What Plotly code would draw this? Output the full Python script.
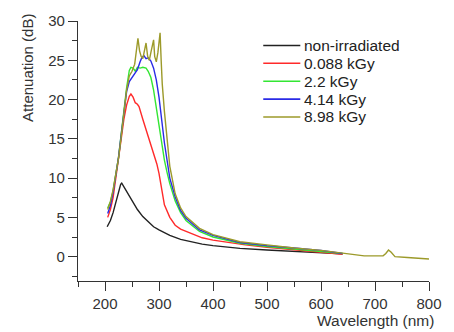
import plotly.graph_objects as go

# ---- data ----
wl_black = [204, 210, 215, 220, 225, 229, 231, 234, 240, 250, 260, 270, 280, 290, 300, 320, 340, 360, 380, 400, 450, 500, 550, 600, 640]
att_black = [3.8, 4.6, 5.6, 7.0, 8.4, 9.2, 9.35, 9.0, 8.2, 7.1, 6.0, 5.1, 4.4, 3.8, 3.4, 2.7, 2.2, 1.9, 1.6, 1.4, 1.05, 0.85, 0.7, 0.5, 0.35]

wl_red = [205, 210, 215, 220, 225, 230, 235, 240, 245, 248, 252, 256, 260, 263, 270, 280, 290, 296, 300, 305, 310, 320, 330, 340, 360, 380, 400, 430, 460, 500, 550, 600, 640]
att_red = [5.0, 6.0, 7.5, 9.8, 12.3, 15.0, 17.5, 19.3, 20.4, 20.7, 20.3, 19.6, 19.4, 19.1, 17.5, 15.3, 13.0, 11.8, 10.6, 8.5, 6.6, 5.0, 4.0, 3.5, 2.9, 2.4, 2.1, 1.8, 1.5, 1.2, 0.9, 0.6, 0.3]

wl_green = [205, 210, 215, 220, 225, 230, 235, 240, 245, 248, 252, 256, 260, 265, 270, 276, 280, 285, 290, 295, 300, 305, 310, 315, 320, 330, 340, 350, 375, 400, 450, 500, 550, 600, 640]
att_green = [6.2, 7.0, 8.4, 10.4, 12.6, 15.6, 18.8, 21.5, 23.7, 24.1, 24.0, 23.6, 24.1, 24.0, 24.1, 24.0, 23.6, 22.8, 21.2, 19.0, 16.5, 14.3, 12.3, 10.7, 9.3, 7.1, 5.6, 4.6, 3.2, 2.5, 1.7, 1.3, 1.0, 0.7, 0.4]

wl_blue = [205, 210, 215, 220, 225, 230, 235, 240, 245, 250, 255, 260, 265, 268, 272, 276, 280, 285, 290, 295, 300, 305, 310, 320, 330, 340, 350, 375, 400, 450, 500, 550, 600, 640]
att_blue = [5.5, 6.5, 8.2, 10.3, 12.6, 15.5, 18.5, 21.0, 22.3, 22.8, 23.2, 23.8, 24.8, 25.3, 25.6, 25.2, 25.3, 24.9, 24.0, 22.5, 20.3, 17.5, 14.5, 10.0, 7.6, 5.9, 4.9, 3.4, 2.7, 1.8, 1.4, 1.1, 0.8, 0.4]

wl_olive = [205, 210, 215, 220, 225, 230, 235, 240, 245, 250, 255, 258, 261, 264, 267, 270, 273, 276, 279, 282, 285, 288, 290, 292, 295, 298, 300, 302, 304, 306, 310, 315, 320, 330, 340, 350, 375, 400, 450, 500, 550, 600, 650, 680, 700, 715, 720, 725, 730, 737, 760, 780, 800]
att_olive = [6.0, 7.0, 8.5, 10.3, 12.5, 15.3, 18.5, 21.2, 23.0, 23.6, 24.5, 26.0, 27.8, 26.2, 25.5, 25.2, 26.3, 27.2, 25.5, 25.0, 26.0, 27.3, 27.6, 25.5, 24.8, 26.0, 27.8, 28.5, 25.0, 22.0, 18.5, 14.5, 11.5, 8.0, 6.2, 5.1, 3.6, 2.8, 1.9, 1.5, 1.1, 0.8, 0.4, 0.1, 0.1, 0.1, 0.4, 0.85, 0.55, 0.0, -0.1, -0.2, -0.3]

series_names = ["non-irradiated", "0.088 kGy", "2.2 kGy", "4.14 kGy", "8.98 kGy"]
series_x = [wl_black, wl_red, wl_green, wl_blue, wl_olive]
series_y = [att_black, att_red, att_green, att_blue, att_olive]
series_colors = ["#222222", "#ff2a2a", "#33e633", "#2a2ae6", "#9c9a2a"]

x_ticks = [200, 300, 400, 500, 600, 700, 800]
y_ticks = [0, 5, 10, 15, 20, 25, 30]

FONT = "Liberation Sans, Arial, sans-serif"
TXT = "#333333"
AX = "#333333"

fig = go.Figure()
for name, x, y, c in zip(series_names, series_x, series_y, series_colors):
    fig.add_trace(go.Scatter(x=x, y=y, mode="lines", name=name,
                             line=dict(color=c, width=1.4), showlegend=False))

axis_common = dict(
    showline=True, linecolor=AX, linewidth=1.3,
    ticks="outside", ticklen=9, tickwidth=1.3, tickcolor=AX,
    showgrid=False, zeroline=False,
    tickfont=dict(family=FONT, size=15, color=TXT),
)

fig.update_xaxes(range=[150, 800], tickvals=x_ticks,
                 minor=dict(dtick=50, tick0=0, ticks="outside", ticklen=5,
                            tickwidth=1.3, tickcolor=AX),
                 **axis_common)
fig.update_yaxes(range=[-3.1, 30], tickvals=y_ticks,
                 minor=dict(dtick=2.5, tick0=0, ticks="outside", ticklen=5,
                            tickwidth=1.3, tickcolor=AX),
                 **axis_common)

# axis titles (placed like the reference: y title near top, x title at right)
fig.add_annotation(text="Attenuation (dB)", xref="paper", yref="paper",
                   x=-0.142, y=0.82, textangle=-90, showarrow=False,
                   xanchor="center", yanchor="middle",
                   font=dict(family=FONT, size=15, color=TXT))
fig.add_annotation(text="Wavelength (nm)", xref="paper", yref="paper",
                   x=1.02, y=-0.15, showarrow=False,
                   xanchor="right", yanchor="middle",
                   font=dict(family=FONT, size=15.5, color=TXT))

# legend drawn as line swatches + labels, tight row spacing like the reference
PLOT_TOP, PLOT_BOTTOM, PLOT_LEFT, PLOT_W = 15, 281, 78, 360
row0, row_gap = 40, 18.3
for i, (name, c) in enumerate(zip(series_names, series_colors)):
    yp = (PLOT_BOTTOM - (row0 + i * row_gap)) / (PLOT_BOTTOM - PLOT_TOP)
    fig.add_shape(type="line", xref="paper", yref="paper",
                  x0=(268 - PLOT_LEFT) / PLOT_W, x1=(306 - PLOT_LEFT) / PLOT_W,
                  y0=yp, y1=yp, line=dict(color=c, width=1.6))
    fig.add_annotation(text=name, xref="paper", yref="paper",
                       x=(308 - PLOT_LEFT) / PLOT_W, y=yp, showarrow=False,
                       xanchor="left", yanchor="middle",
                       font=dict(family=FONT, size=15.5, color="#222222"))

fig.update_layout(
    width=454, height=332,
    margin=dict(l=78, r=16, t=15, b=51),
    paper_bgcolor="white", plot_bgcolor="white",
    showlegend=False,
)

fig.write_html("out.html",
               config={"displayModeBar": False},
               post_script="document.body.style.margin='0';document.body.style.padding='0';")
